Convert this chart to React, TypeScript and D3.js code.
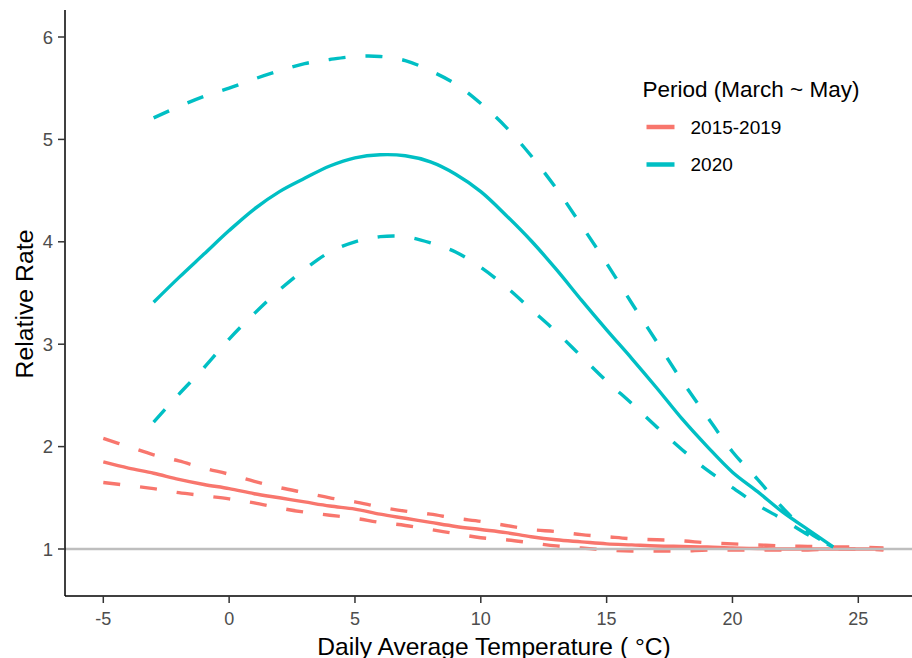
import React from "react";
import * as d3 from "d3";

const temps2020 = [-3, -2, -1, 0, 1, 2, 3, 4, 5, 6, 7, 8, 9, 10, 11, 12, 13, 14, 15, 16, 17, 18, 19, 20, 21, 22, 23, 24];
const fit2020 = [3.41, 3.65, 3.88, 4.11, 4.32, 4.49, 4.62, 4.74, 4.82, 4.85, 4.84, 4.78, 4.66, 4.49, 4.26, 4.01, 3.73, 3.43, 3.14, 2.86, 2.57, 2.27, 2.0, 1.75, 1.56, 1.36, 1.19, 1.02];
const upper2020 = [5.21, 5.32, 5.42, 5.5, 5.59, 5.67, 5.74, 5.78, 5.81, 5.81, 5.77, 5.67, 5.54, 5.35, 5.12, 4.84, 4.52, 4.16, 3.79, 3.4, 3.02, 2.64, 2.29, 1.95, 1.68, 1.4, 1.17, 1.02];
const lower2020 = [2.24, 2.51, 2.77, 3.05, 3.3, 3.53, 3.73, 3.9, 4.0, 4.05, 4.05, 3.99, 3.9, 3.75, 3.56, 3.34, 3.12, 2.88, 2.64, 2.42, 2.19, 1.97, 1.77, 1.6, 1.43, 1.29, 1.14, 1.02];

const tempsBase = [-5, -4, -3, -2, -1, 0, 1, 2, 3, 4, 5, 6, 7, 8, 9, 10, 11, 12, 13, 14, 15, 16, 17, 18, 19, 20, 21, 22, 23, 24, 25, 26];
const fitBase = [1.85, 1.79, 1.74, 1.68, 1.63, 1.59, 1.54, 1.5, 1.46, 1.42, 1.39, 1.34, 1.3, 1.26, 1.22, 1.19, 1.16, 1.12, 1.09, 1.07, 1.05, 1.04, 1.03, 1.025, 1.02, 1.01, 1.005, 1.0, 1.0, 1.0, 1.0, 1.0];
const upperBase = [2.08, 2.0, 1.92, 1.86, 1.79, 1.73, 1.66, 1.6, 1.55, 1.5, 1.46, 1.41, 1.37, 1.34, 1.3, 1.27, 1.23, 1.19, 1.17, 1.14, 1.12, 1.1, 1.09, 1.08, 1.06, 1.05, 1.04, 1.03, 1.025, 1.02, 1.02, 1.01];
const lowerBase = [1.65, 1.62, 1.59, 1.55, 1.52, 1.49, 1.45, 1.4, 1.36, 1.33, 1.3, 1.26, 1.23, 1.19, 1.15, 1.11, 1.09, 1.06, 1.03, 1.01, 0.99, 0.98, 0.98, 0.98, 0.99, 0.99, 0.99, 0.99, 0.99, 1.0, 1.0, 0.99];

const xTicks = [-5, 0, 5, 10, 15, 20, 25];
const yTicks = [1, 2, 3, 4, 5, 6];
const legendLabels = ["2015-2019", "2020"];
const colors = ["#F8766D", "#00BFC4"];

const W = 912;
const H = 658;
const left = 65;
const right = 912;
const top = 10;
const bottom = 596;
const FONT = "'Liberation Sans', Arial, sans-serif";

export default function App() {
  const x = d3.scaleLinear().domain([-5, 25]).range([103.3, 858.3]);
  const y = d3.scaleLinear().domain([1, 6]).range([549, 37]);

  const mk = (xs: number[], ys: number[]) =>
    d3
      .line<number>()
      .x((_, i) => x(xs[i]))
      .y((d) => y(d))
      .curve(d3.curveCatmullRom.alpha(0.5))(ys) as string;

  const dash = "17,20";
  const lw = 3.4;

  return (
    <svg
      width={W}
      height={H}
      style={{ position: "absolute", left: 0, top: 0, background: "#fff" }}
      fontFamily={FONT}
    >
      <rect x={0} y={0} width={W} height={H} fill="#fff" />
      {/* 2015-2019 */}
      <g fill="none" stroke={colors[0]} strokeWidth={lw}>
        <path d={mk(tempsBase, upperBase)} strokeDasharray={dash} />
        <path d={mk(tempsBase, lowerBase)} strokeDasharray={dash} />
        <path d={mk(tempsBase, fitBase)} />
      </g>
      {/* reference line */}
      <line x1={left} x2={right} y1={y(1)} y2={y(1)} stroke="#BEBEBE" strokeWidth={2.5} />
      {/* 2020 */}
      <g fill="none" stroke={colors[1]} strokeWidth={lw}>
        <path d={mk(temps2020, upper2020)} strokeDasharray={dash} />
        <path d={mk(temps2020, lower2020)} strokeDasharray={dash} />
        <path d={mk(temps2020, fit2020)} />
      </g>
      {/* axes */}
      <line x1={left} x2={left} y1={top} y2={bottom} stroke="#000" strokeWidth={1.5} />
      <line x1={left} x2={right} y1={bottom} y2={bottom} stroke="#000" strokeWidth={1.5} />
      {yTicks.map((t) => (
        <g key={"y" + t}>
          <line x1={left - 7} x2={left} y1={y(t)} y2={y(t)} stroke="#333" strokeWidth={1.5} />
          <text x={53} y={y(t)} dy="0.36em" textAnchor="end" fontSize={18.5} fill="#4D4D4D">
            {t}
          </text>
        </g>
      ))}
      {xTicks.map((t) => (
        <g key={"x" + t}>
          <line x1={x(t)} x2={x(t)} y1={bottom} y2={bottom + 7} stroke="#333" strokeWidth={1.5} />
          <text x={x(t)} y={625} textAnchor="middle" fontSize={18} fill="#4D4D4D">
            {t}
          </text>
        </g>
      ))}
      <text x={494} y={655} textAnchor="middle" fontSize={24.6} fill="#000">
        Daily Average Temperature ( °C)
      </text>
      <text
        transform={`translate(33, 304) rotate(-90)`}
        textAnchor="middle"
        fontSize={24.8}
        fill="#000"
      >
        Relative Rate
      </text>
      {/* legend */}
      <text x={642.5} y={96.5} fontSize={22.5} fill="#000">
        Period (March ~ May)
      </text>
      {legendLabels.map((l, i) => (
        <g key={l}>
          <line
            x1={646.5}
            x2={674.5}
            y1={127 + i * 37.5}
            y2={127 + i * 37.5}
            stroke={colors[i]}
            strokeWidth={4.5}
          />
          <text x={690.5} y={127 + i * 37.5} dy="0.36em" fontSize={19} fill="#000">
            {l}
          </text>
        </g>
      ))}
    </svg>
  );
}
